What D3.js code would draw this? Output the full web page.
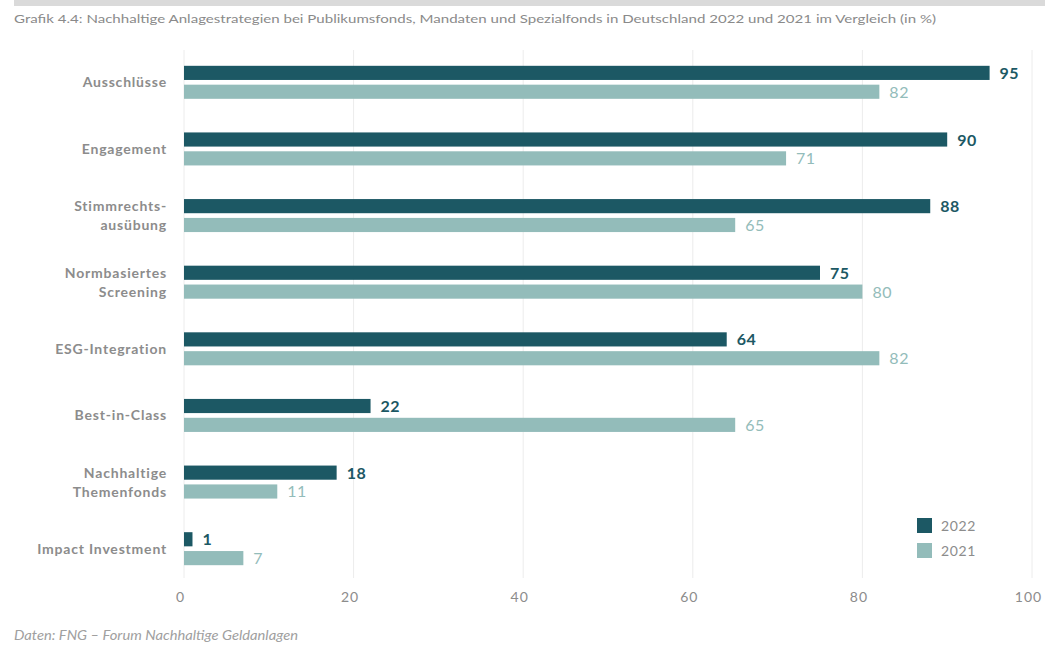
<!DOCTYPE html>
<html>
<head>
<meta charset="utf-8">
<script src="https://d3js.org/d3.v7.min.js"></script>
<style>
  body { margin: 0; background: #fff; }
  svg { font-family: Lato, "Open Sans", sans-serif; }
</style>
</head>
<body>
<div id="chart"></div>
<script>
// data
categories = [
  ["Ausschlüsse"],
  ["Engagement"],
  ["Stimmrechts-", "ausübung"],
  ["Normbasiertes", "Screening"],
  ["ESG-Integration"],
  ["Best-in-Class"],
  ["Nachhaltige", "Themenfonds"],
  ["Impact Investment"]
]
years = ["2022", "2021"]
values2022 = [95, 90, 88, 75, 64, 22, 18, 1]
values2021 = [82, 71, 65, 80, 82, 65, 11, 7]
xTicks = [0, 20, 40, 60, 80, 100]

title = "Grafik 4.4: Nachhaltige Anlagestrategien bei Publikumsfonds, Mandaten und Spezialfonds in Deutschland 2022 und 2021 im Vergleich (in %)"
source = "Daten: FNG – Forum Nachhaltige Geldanlagen"

width = 1045
height = 648
dark = '#1c5864'
light = '#93bcba'
grey = '#8c8c8c'

rows = categories.map((c, i) => ({ key: c.join(' '), lines: c, v: [values2022[i], values2021[i]] }))

svg = d3.select('#chart').append('svg')
  .attr('width', width)
  .attr('height', height)

// top band + title
svg.append('rect').attr('x', 14).attr('y', 0).attr('width', width - 14).attr('height', 6).attr('fill', '#dadada')
svg.append('text')
  .attr('x', 14).attr('y', 23)
  .attr('font-size', 11)
  .attr('fill', '#8a8a8a')
  .attr('textLength', 922)
  .attr('lengthAdjust', 'spacingAndGlyphs')
  .text(title)

// scales
x = d3.scaleLinear().domain([0, 100]).range([184, 1032])
y = d3.scaleBand().domain(rows.map(d => d.key)).range([49, 582]).padding(0)
inner = d3.scaleBand().domain(years)
  .range([y.bandwidth() / 2 - 16.5, y.bandwidth() / 2 + 16.5])
  .paddingInner(0.25)

// grid
svg.append('g').selectAll('line')
  .data(xTicks)
  .join('line')
  .attr('x1', d => x(d)).attr('x2', d => x(d))
  .attr('y1', 50).attr('y2', 578)
  .attr('stroke', '#ececec')
  .attr('stroke-width', 1)

// x axis labels
xAxis = d3.axisBottom(x).tickValues(xTicks).tickSize(0).tickPadding(0)
gx = svg.append('g').attr('transform', 'translate(-4,592)').call(xAxis)
gx.select('.domain').remove()
gx.selectAll('text')
  .attr('font-size', 14)
  .attr('font-family', 'Lato, sans-serif')
  .attr('letter-spacing', '1px')
  .attr('fill', grey)

// groups
g = svg.append('g').selectAll('g.grp')
  .data(rows)
  .join('g')
  .attr('class', 'grp')
  .attr('transform', d => `translate(0,${y(d.key)})`)

g.append('text')
  .attr('text-anchor', 'end')
  .attr('font-size', 14)
  .attr('font-weight', 'bold')
  .attr('letter-spacing', '0.8px')
  .attr('fill', grey)
  .each(function(d) {
    const n = d.lines.length
    d3.select(this).selectAll('tspan')
      .data(d.lines)
      .join('tspan')
      .attr('x', 167)
      .attr('y', (l, j) => y.bandwidth() / 2 + 5 + (j - (n - 1) / 2) * 19)
      .text(l => l)
  })

g.selectAll('rect')
  .data(d => years.map((yr, j) => ({ yr, v: d.v[j] })))
  .join('rect')
  .attr('x', x(0))
  .attr('y', d => inner(d.yr))
  .attr('width', d => x(d.v) - x(0))
  .attr('height', inner.bandwidth())
  .attr('fill', d => d.yr === '2022' ? dark : light)

g.selectAll('text.val')
  .data(d => years.map((yr, j) => ({ yr, v: d.v[j] })))
  .join('text')
  .attr('class', 'val')
  .attr('x', d => x(d.v) + 10)
  .attr('y', d => inner(d.yr) + inner.bandwidth() / 2 + 6)
  .attr('font-size', 16)
  .attr('font-weight', d => d.yr === '2022' ? 'bold' : 'normal')
  .attr('letter-spacing', '0.5px')
  .attr('fill', d => d.yr === '2022' ? dark : light)
  .text(d => d.v)

// legend
leg = svg.append('g').selectAll('g')
  .data(years)
  .join('g')
  .attr('transform', (d, i) => `translate(917,${518 + i * 25})`)
leg.append('rect').attr('width', 15).attr('height', 15)
  .attr('fill', d => d === '2022' ? dark : light)
leg.append('text').attr('x', 24).attr('y', 13)
  .attr('font-size', 14)
  .attr('letter-spacing', '0.6px')
  .attr('fill', grey)
  .text(d => d)

// source
svg.append('text')
  .attr('x', 14).attr('y', 640)
  .attr('font-size', 12.5)
  .attr('font-style', 'italic')
  .attr('fill', '#a0a0a0')
  .attr('textLength', 284)
  .attr('lengthAdjust', 'spacingAndGlyphs')
  .text(source)
</script>
</body>
</html>
